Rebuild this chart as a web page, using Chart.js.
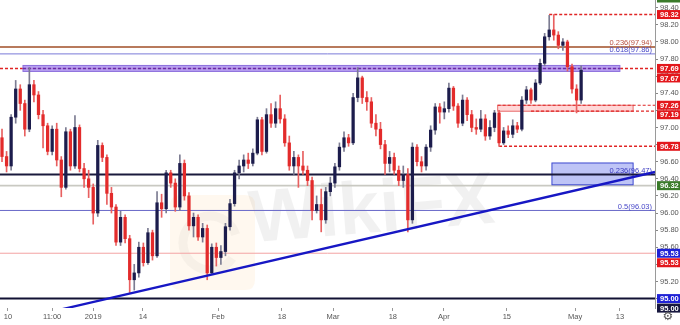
<!DOCTYPE html>
<html>
<head>
<meta charset="utf-8">
<script src="https://cdn.jsdelivr.net/npm/chart.js@4.4.1/dist/chart.umd.min.js"></script>
<style>
  html, body { margin: 0; padding: 0; background: #fff; }
  #wrap { width: 680px; height: 325px; }
</style>
</head>
<body>
<div id="wrap"><canvas id="fxChart" width="680" height="325"></canvas></div>
<script>
// ═══ US Dollar (DXY) daily candles, Dec 2018 → May 2019 ═══
var opens  = [96.88,96.66,96.55,97.12,97.45,97.28,96.98,97.50,97.38,97.15,97.02,96.72,96.98,96.62,96.30,96.95,96.55,97.00,96.52,96.40,
              96.30,96.00,96.79,96.65,96.23,96.07,95.66,95.95,95.70,95.22,95.30,95.60,95.42,95.77,95.50,96.12,96.05,96.47,96.35,96.07,
              96.58,96.20,95.85,95.95,95.72,95.82,95.30,95.60,95.48,95.55,95.84,96.11,96.47,96.55,96.62,96.58,96.70,97.09,96.72,97.15,
              97.05,97.22,97.10,96.82,96.55,96.65,96.55,96.50,96.38,96.03,96.10,95.92,96.25,96.35,96.54,96.77,96.88,96.82,97.35,97.58,
              97.35,97.30,97.05,96.98,96.80,96.58,96.65,96.50,96.38,96.45,95.92,96.77,96.60,96.55,96.77,96.97,97.24,97.18,97.22,97.46,
              97.25,97.05,97.32,97.15,97.00,96.98,97.10,96.90,97.00,97.17,96.82,96.96,96.92,97.02,96.98,97.32,97.44,97.32,97.52,97.75,
              98.06,98.14,98.08,97.96,98.00,97.71,97.45,97.32];
var highs  = [96.98,96.72,97.15,97.55,97.50,97.32,97.70,97.55,97.42,97.20,97.05,97.02,97.05,96.66,97.00,96.98,97.14,97.03,96.58,96.50,
              96.34,96.85,96.82,96.68,96.30,96.10,96.02,95.98,95.74,95.40,95.66,95.65,95.82,95.80,96.25,96.22,96.50,96.50,96.40,96.68,
              96.62,96.24,96.00,95.98,95.88,95.86,95.64,95.65,95.62,95.88,96.16,96.50,96.62,96.68,96.70,96.75,97.12,97.12,97.22,97.28,
              97.30,97.38,97.15,96.90,96.72,96.68,96.72,96.55,96.42,96.20,96.28,96.30,96.42,96.58,96.82,96.95,96.92,97.40,97.70,97.60,
              97.42,97.35,97.15,97.06,96.85,96.72,96.70,96.55,96.55,96.52,96.82,96.80,96.66,96.80,97.02,97.28,97.28,97.30,97.52,97.48,
              97.28,97.38,97.35,97.20,97.10,97.20,97.15,97.08,97.20,97.20,97.00,97.02,97.09,97.06,97.36,97.48,97.46,97.56,97.80,98.10,
              98.31,98.32,98.12,98.04,98.02,97.74,97.50,97.72];
var lows   = [96.60,96.48,96.50,97.05,97.20,96.90,96.95,97.30,97.10,96.76,96.68,96.68,96.55,96.19,96.28,96.50,96.52,96.48,96.30,96.18,
              95.87,95.96,96.60,96.10,96.00,95.62,95.62,95.65,95.07,95.10,95.25,95.38,95.40,95.45,95.48,95.95,96.00,96.30,96.02,96.03,
              96.15,95.80,95.72,95.68,95.66,95.22,95.28,95.38,95.40,95.50,95.80,96.08,96.40,96.48,96.52,96.55,96.68,96.68,96.70,97.00,
              97.00,97.05,96.78,96.50,96.45,96.30,96.45,96.32,95.92,96.00,95.78,95.88,96.20,96.30,96.50,96.72,96.78,96.80,97.30,97.28,
              97.20,97.00,96.90,96.75,96.45,96.48,96.45,96.32,96.30,95.78,95.88,96.55,96.48,96.50,96.72,96.92,97.05,97.10,97.18,97.20,
              97.00,97.02,97.08,96.95,96.92,96.95,96.85,96.86,96.95,96.78,96.80,96.88,96.88,96.94,96.96,97.28,97.28,97.30,97.50,97.72,
              98.02,98.02,97.92,97.90,97.66,97.40,97.17,97.28];
var closes = [96.66,96.55,97.12,97.45,97.28,96.98,97.50,97.38,97.15,97.02,96.72,96.98,96.62,96.30,96.95,96.55,97.00,96.52,96.40,96.30,
              96.00,96.79,96.65,96.23,96.07,95.66,95.95,95.70,95.22,95.30,95.60,95.42,95.77,95.50,96.12,96.05,96.47,96.35,96.07,96.58,
              96.20,95.85,95.95,95.72,95.82,95.30,95.60,95.48,95.55,95.84,96.11,96.47,96.55,96.62,96.58,96.70,97.09,96.72,97.15,97.05,
              97.22,97.10,96.82,96.55,96.65,96.55,96.50,96.38,96.03,96.10,95.92,96.25,96.35,96.54,96.77,96.88,96.82,97.35,97.58,97.35,
              97.30,97.05,96.98,96.80,96.58,96.65,96.50,96.38,96.45,95.92,96.77,96.60,96.55,96.77,96.97,97.24,97.18,97.22,97.46,97.25,
              97.05,97.32,97.15,97.00,96.98,97.10,96.90,97.00,97.17,96.82,96.96,96.92,97.02,96.98,97.32,97.44,97.32,97.52,97.75,98.06,
              98.14,98.08,97.96,98.00,97.71,97.45,97.32,97.67];

// x axis labels, placed on the candle index scale
var xTickPos    = [1.3, 11.0, 20.0, 30.9, 47.4, 61.4, 72.6, 85.7, 96.9, 110.7, 125.7, 135.5];
var xTickLabels = ['10', '11:00', '2019', '14', 'Feb', '18', 'Mar', '18', 'Apr', '15', 'May', '13'];
var yTickVals   = [95.00, 95.20, 95.40, 95.60, 95.80, 96.00, 96.20, 96.40, 96.60, 96.80, 97.00, 97.20, 97.40, 97.60, 97.80, 98.00, 98.20, 98.40];

// levels
var fibVals    = [97.94, 97.86, 96.03];
var fibLabels  = ['0.236(97.94)', '0.618(97.86)', '0.5(96.03)'];
var fibBoxVal  = 96.47;            // 0.236 of the larger move
var fibBoxZone = [96.33, 96.585];
var resBand    = [97.655, 97.725]; // 97.69 zone
var supBand    = [97.19, 97.26];
var highLevel  = 98.32;
var lowLevel   = 96.78;
var blackLines = [96.45, 95.00];
var greyLine   = 96.32;
var pinkLine   = 95.53;
var trendX     = [12.7, 143.2];
var trendY     = [94.87, 96.48];

// right-hand price tags
var tagVals   = [98.32, 97.69, 97.67, 97.26, 97.19, 96.78, 96.32, 95.53, 95.53, 95.00, 95.00];
var tagColors = ['#e3171c', '#e3171c', '#e3171c', '#e3171c', '#e3171c', '#e3171c', '#3a7a2a', '#1f22d6', '#e3171c', '#1f22d6', '#17173e'];

var BULL = '#1c1c4c', BEAR = '#e32b2b';
var FONT = '"Liberation Sans", Arial, sans-serif';

function isBull(i) { return closes[i] >= opens[i]; }

// background + watermark
var backdrop = {
  id: 'backdrop',
  beforeDraw: function(c) {
    var ctx = c.ctx;
    ctx.save();
    ctx.fillStyle = '#fff';
    ctx.fillRect(0, 0, c.width, c.height);
    // faint logo
    ctx.fillStyle = 'rgba(255,190,110,0.11)';
    ctx.beginPath();
    ctx.moveTo(182, 195); ctx.lineTo(245, 195); ctx.quadraticCurveTo(255, 195, 255, 205);
    ctx.lineTo(255, 280); ctx.quadraticCurveTo(255, 290, 245, 290); ctx.lineTo(182, 290);
    ctx.quadraticCurveTo(170, 290, 170, 280); ctx.lineTo(170, 205); ctx.quadraticCurveTo(170, 195, 182, 195);
    ctx.fill();
    ctx.strokeStyle = 'rgba(120,120,120,0.06)';
    ctx.lineWidth = 9;
    ctx.beginPath(); ctx.arc(210, 243, 27, 0.6, Math.PI * 1.9); ctx.stroke();
    // WikiFX text
    ctx.translate(372, 212);
    ctx.rotate(-0.08);
    ctx.font = 'bold 74px ' + FONT;
    ctx.fillStyle = 'rgba(0,0,0,0.055)';
    ctx.textAlign = 'center';
    ctx.textBaseline = 'middle';
    ctx.fillText('WikiFX', 0, 0);
    ctx.restore();
  }
};

// horizontal levels, zones and fib labels
var levels = {
  id: 'levels',
  beforeDatasetsDraw: function(c) {
    var ctx = c.ctx, a = c.chartArea, xs = c.scales.x, ys = c.scales.y;
    function px(i) { return i == null ? a.left : xs.getPixelForValue(i); }
    function py(v) { return ys.getPixelForValue(v); }
    function hline(v, color, w, dash, from, to) {
      var y = py(v);
      ctx.save();
      ctx.strokeStyle = color; ctx.lineWidth = w; ctx.setLineDash(dash || []);
      ctx.beginPath(); ctx.moveTo(from == null ? a.left : px(from), y);
      ctx.lineTo(to == null ? a.right : px(to), y); ctx.stroke();
      ctx.restore();
    }
    function zone(v0, v1, from, to, fill, stroke) {
      var x0 = px(from), x1 = to == null ? a.right : px(to);
      var y0 = py(v1), y1 = py(v0);
      ctx.save();
      ctx.fillStyle = fill; ctx.fillRect(x0, y0, x1 - x0, y1 - y0);
      ctx.strokeStyle = stroke; ctx.lineWidth = 1; ctx.strokeRect(x0, y0, x1 - x0, y1 - y0);
      ctx.restore();
    }
    function label(txt, v, color, off) {
      ctx.save();
      ctx.font = '7.5px ' + FONT; ctx.fillStyle = color;
      ctx.textAlign = 'right'; ctx.textBaseline = 'alphabetic';
      ctx.fillText(txt, a.right - 3, py(v) + off);
      ctx.restore();
    }
    ctx.save();
    ctx.beginPath(); ctx.rect(a.left, a.top, a.right - a.left, a.bottom - a.top); ctx.clip();

    hline(pinkLine, '#f3a3a3', 1);
    hline(fibVals[2], '#6868c8', 1);
    hline(greyLine, '#c9c9c2', 1.6);
    hline(blackLines[1], '#111133', 2);
    hline(fibVals[1], '#7a7ad8', 1);
    hline(fibVals[0], '#b87a5c', 2);

    // 0.236 box of the bigger move
    zone(fibBoxZone[0], fibBoxZone[1], 120.6, 138.4, 'rgba(110,125,235,0.45)', '#3c48d0');
    hline(blackLines[0], '#1a1a3c', 2);

    // lows / highs
    hline(lowLevel, '#e02424', 1.4, [3, 2], 109);
    hline(highLevel, '#e02424', 1.4, [3, 2], 120);
    zone(supBand[0], supBand[1], 108.7, 138.4, 'rgba(255,140,140,0.35)', '#e86a6a');
    hline(supBand[1], '#e02424', 1.2, [3, 2], 108.7);
    hline(supBand[0], '#e02424', 1.2, [3, 2], 116);

    // 97.69 resistance
    hline(tagVals[1], '#e02424', 1.4, [3, 2]);
    zone(resBand[0], resBand[1], 4.6, 135.5, 'rgba(175,150,240,0.9)', '#8d6fdc');
    hline(tagVals[1], '#6a2aa8', 1.6, [3, 2], 4.6, 135.5);

    label(fibLabels[0], fibVals[0], '#b8503e', -2);
    label(fibLabels[1], fibVals[1], '#4848c8', -1.5);
    label(fibLabels[2], fibVals[2], '#4848c8', -1.5);
    label('0.236(' + fibBoxVal.toFixed(2) + ')', fibBoxVal, '#3a3ac0', 0);
    ctx.restore();
  }
};

// price tags on the axis + settings glyph
var tags = {
  id: 'tags',
  afterDraw: function(c) {
    var ctx = c.ctx, ys = c.scales.y, left = c.chartArea.right + 2;
    var h = 9, lastBottom = -100;
    ctx.save();
    ctx.fillStyle = '#3a7a2a';
    ctx.fillRect(left, 0, c.width - left, 2.5);
    ctx.font = 'bold 7.5px ' + FONT;
    ctx.textBaseline = 'middle';
    ctx.textAlign = 'left';
    for (var i = 0; i < tagVals.length; i++) {
      var y = ys.getPixelForValue(tagVals[i]) - h / 2;
      if (y < lastBottom + 0.5) y = lastBottom + 0.5;
      ctx.fillStyle = tagColors[i];
      ctx.fillRect(left, y, c.width - left, h);
      ctx.fillStyle = '#fff';
      ctx.fillText(tagVals[i].toFixed(2), left + 3, y + h / 2 + 0.5);
      lastBottom = y + h;
    }
    ctx.fillStyle = '#555';
    ctx.font = '12px "DejaVu Sans"';
    ctx.textAlign = 'center';
    ctx.fillText('\u2699', 668, 317);
    ctx.restore();
  }
};

new Chart(document.getElementById('fxChart'), {
  type: 'bar',
  data: {
    datasets: [
      {
        type: 'line',
        data: [{x: trendX[0], y: trendY[0]}, {x: trendX[1], y: trendY[1]}],
        borderColor: '#1717c4', borderWidth: 2.3, pointRadius: 0, tension: 0, order: 0
      },
      {
        data: opens.map(function(o, i) { return {x: i, y: [o, closes[i]]}; }),
        backgroundColor: function(ctx) { return isBull(ctx.dataIndex) ? BULL : BEAR; },
        barThickness: 2.6, grouped: false, order: 1
      },
      {
        data: lows.map(function(l, i) { return {x: i, y: [l, highs[i]]}; }),
        backgroundColor: function(ctx) { return isBull(ctx.dataIndex) ? '#7c7c92' : '#e86060'; },
        barThickness: 1, grouped: false, order: 2
      }
    ]
  },
  plugins: [backdrop, levels, tags],
  options: {
    responsive: false, animation: false, devicePixelRatio: 1,
    layout: {padding: 0},
    plugins: {legend: {display: false}, tooltip: {enabled: false}},
    scales: {
      x: {
        type: 'linear', min: -0.44, max: 143.2, offset: false,
        grid: {drawOnChartArea: false, drawTicks: true, tickLength: 3, color: '#999', offset: false},
        border: {display: false},
        ticks: {
          font: {size: 7.5, family: FONT}, color: '#555', padding: 1, maxRotation: 0, autoSkip: false,
          callback: function(v, i) { return xTickLabels[i]; }
        },
        afterBuildTicks: function(ax) { ax.ticks = xTickPos.map(function(v) { return {value: v}; }); },
        afterFit: function(ax) { ax.height = 17; ax.paddingLeft = 0; ax.paddingRight = 0; }
      },
      y: {
        position: 'right', min: 94.89, max: 98.49,
        grid: {drawOnChartArea: false, drawTicks: true, tickLength: 3, color: '#888'},
        border: {display: true, color: '#9a9a9a'},
        ticks: {
          font: {size: 7.5, family: FONT}, color: '#555', padding: 2,
          callback: function(v) { return Number(v).toFixed(2); }
        },
        afterBuildTicks: function(ax) { ax.ticks = yTickVals.map(function(v) { return {value: v}; }); },
        afterFit: function(ax) { ax.width = 25; ax.paddingTop = 0; ax.paddingBottom = 0; }
      }
    }
  }
});
</script>
</body>
</html>
